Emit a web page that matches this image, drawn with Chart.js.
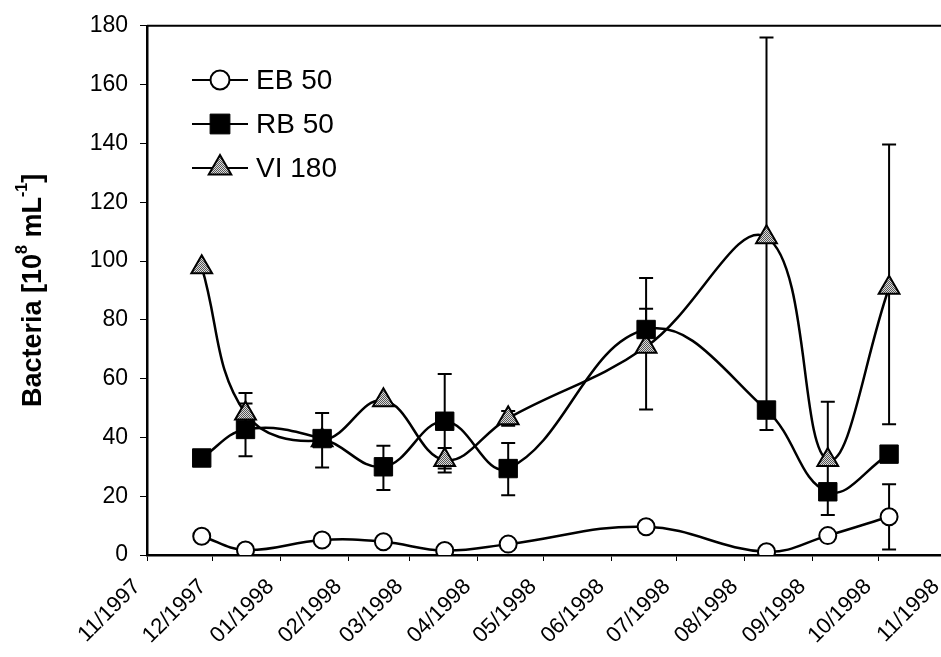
<!DOCTYPE html>
<html>
<head>
<meta charset="utf-8">
<title>Bacteria</title>
<script src="https://cdn.jsdelivr.net/npm/chart.js@4.4.1/dist/chart.umd.min.js"></script>
<style>
    html, body { margin: 0; padding: 0; background: #fff; overflow: hidden; }
    #wrap { width: 941px; height: 657px; overflow: hidden; }
</style>
</head>
<body>
<div id="wrap"><canvas id="chartBacteria" width="960" height="657"></canvas></div>
<script>
/* ====================================
   DATOS
   ==================================== */

// fechas de muestreo
const fechas = ['1997-11-26', '1997-12-16', '1998-01-20', '1998-02-17', '1998-03-17',
                '1998-04-15', '1998-06-17', '1998-08-11', '1998-09-08', '1998-10-06'];

// eje x: inicio de cada mes
const mesesInicio = ['1997-11-01', '1997-12-01', '1998-01-01', '1998-02-01', '1998-03-01',
                     '1998-04-01', '1998-05-01', '1998-06-01', '1998-07-01', '1998-08-01',
                     '1998-09-01', '1998-10-01', '1998-11-01'];
const mesesLabels = ['11/1997', '12/1997', '01/1998', '02/1998', '03/1998', '04/1998', '05/1998',
                     '06/1998', '07/1998', '08/1998', '09/1998', '10/1998', '11/1998'];

const yTicks = [0, 20, 40, 60, 80, 100, 120, 140, 160, 180];

const eb50 = [6.4, 1.7, 5.1, 4.5, 1.5, 3.7, 9.6, 1.1, 6.6, 13.0];
const rb50 = [33.0, 42.7, 39.6, 30.0, 45.5, 29.4, 76.7, 49.3, 21.5, 34.3];
const vi180 = [97.9, 48.1, 39.0, 52.6, 32.3, 46.5, 70.8, 108.1, 32.3, 90.9];

// barras de error (min / max), null = sin barra
const eb50Low  = [null, null, null, null, null, null, null, null, null, 1.9];
const eb50High = [null, null, null, null, null, null, null, null, null, 24.1];
const rb50Low  = [null, 33.6, 29.8, 22.1, 29.4, 20.3, 69.6, null, null, null];
const rb50High = [null, 51.5, 48.3, 37.2, 61.6, 38.1, 83.8, null, null, null];
const vi180Low  = [null, 41.1, null, null, 28.1, 44.0, 49.5, 42.5, 13.6, 44.5];
const vi180High = [null, 55.1, null, null, 36.4, 49.0, 94.2, 176.0, 52.1, 139.6];

/* ====================================
   UTILIDADES
   ==================================== */

const FONT = "'Liberation Sans', Arial, sans-serif";

const dia = (s) => {
    const [a, m, d] = s.split('-').map(Number);
    return (Date.UTC(a, m - 1, d) - Date.UTC(1997, 10, 1)) / 86400000;
};

const dias = fechas.map(dia);
const diasMes = mesesInicio.map(dia);

const puntos = (valores) => valores.map((v, i) => ({ x: dias[i], y: v }));

// relleno gris tramado de los triangulos
function crearTrama(ctx) {
    const c = document.createElement('canvas');
    c.width = 2;
    c.height = 2;
    const g = c.getContext('2d');
    g.fillStyle = '#dcdcdc';
    g.fillRect(0, 0, 2, 2);
    g.fillStyle = '#555';
    g.fillRect(0, 0, 1, 1);
    g.fillRect(1, 1, 1, 1);
    return ctx.createPattern(c, 'repeat');
}

function dibujarMarca(ctx, estilo, x, y, r) {
    ctx.beginPath();
    if (estilo === 'circle') {
        ctx.arc(x, y, r, 0, Math.PI * 2);
    } else if (estilo === 'rect') {
        const s = r * Math.SQRT1_2;
        ctx.rect(x - s, y - s, 2 * s, 2 * s);
    } else {
        ctx.moveTo(x, y - r);
        ctx.lineTo(x + r * 0.866, y + r * 0.5);
        ctx.lineTo(x - r * 0.866, y + r * 0.5);
    }
    ctx.closePath();
    ctx.fill();
    ctx.stroke();
}

/* ====================================
   PLUGINS
   ==================================== */

const errores = [
    { low: eb50Low, high: eb50High },
    { low: rb50Low, high: rb50High },
    { low: vi180Low, high: vi180High }
];

const barrasError = {
    id: 'barrasError',
    beforeDatasetsDraw(chart) {
        const { ctx, scales: { x, y } } = chart;
        ctx.save();
        ctx.strokeStyle = '#000';
        ctx.lineWidth = 2;
        errores.forEach(serie => {
            serie.low.forEach((lo, i) => {
                if (lo === null) return;
                const px = x.getPixelForValue(dias[i]);
                const yl = y.getPixelForValue(lo);
                const yh = y.getPixelForValue(serie.high[i]);
                ctx.beginPath();
                ctx.moveTo(px, yl);
                ctx.lineTo(px, yh);
                ctx.moveTo(px - 7, yl);
                ctx.lineTo(px + 7, yl);
                ctx.moveTo(px - 7, yh);
                ctx.lineTo(px + 7, yh);
                ctx.stroke();
            });
        });
        ctx.restore();
    }
};

const marco = {
    id: 'marco',
    afterDraw(chart) {
        const { ctx, chartArea: a } = chart;
        ctx.save();
        ctx.strokeStyle = '#000';
        ctx.lineWidth = 2;
        ctx.beginPath();
        ctx.moveTo(a.left, a.top);
        ctx.lineTo(a.right, a.top);
        ctx.lineTo(a.right, a.bottom);
        ctx.stroke();
        ctx.restore();
    }
};

const leyenda = {
    id: 'leyenda',
    afterDraw(chart) {
        const ctx = chart.ctx;
        ctx.save();
        chart.data.datasets.forEach((ds, i) => {
            const y = 80 + i * 44;
            ctx.strokeStyle = '#000';
            ctx.lineWidth = 2;
            ctx.beginPath();
            ctx.moveTo(192, y);
            ctx.lineTo(248, y);
            ctx.stroke();
            ctx.fillStyle = ds.pointBackgroundColor;
            ctx.lineWidth = ds.pointBorderWidth;
            dibujarMarca(ctx, ds.pointStyle, 220, y, ds.pointRadius + 1);
            ctx.fillStyle = '#000';
            ctx.font = '28px ' + FONT;
            ctx.textBaseline = 'middle';
            ctx.textAlign = 'left';
            ctx.fillText(ds.label, 256, y + 1);
        });
        ctx.restore();
    }
};

const tituloY = {
    id: 'tituloY',
    afterDraw(chart) {
        const ctx = chart.ctx;
        const a = chart.chartArea;
        const partes = [
            ['Bacteria [10', false], ['8', true], [' mL', false], ['-1', true], [']', false]
        ];
        const grande = 'bold 27px ' + FONT;
        const chica = 'bold 16px ' + FONT;
        ctx.save();
        let total = 0;
        partes.forEach(([t, sup]) => {
            ctx.font = sup ? chica : grande;
            total += ctx.measureText(t).width;
        });
        ctx.translate(41, (a.top + a.bottom) / 2);
        ctx.rotate(-Math.PI / 2);
        ctx.fillStyle = '#000';
        ctx.textBaseline = 'alphabetic';
        ctx.textAlign = 'left';
        let pos = -total / 2;
        partes.forEach(([t, sup]) => {
            ctx.font = sup ? chica : grande;
            ctx.fillText(t, pos, sup ? -14 : 0);
            pos += ctx.measureText(t).width;
        });
        ctx.restore();
    }
};

/* ====================================
   GRAFICO
   ==================================== */

const canvas = document.getElementById('chartBacteria');
const ctx = canvas.getContext('2d');
const trama = crearTrama(ctx);

const serieBase = {
    borderColor: '#000',
    borderWidth: 2.5,
    pointBorderColor: '#000',
    tension: 0.4,
    fill: false
};

new Chart(ctx, {
    type: 'line',
    data: {
        datasets: [
            {
                ...serieBase,
                label: 'EB 50',
                data: puntos(eb50),
                pointStyle: 'circle',
                pointRadius: 8.5,
                pointBorderWidth: 2,
                pointBackgroundColor: '#fff'
            },
            {
                ...serieBase,
                label: 'RB 50',
                data: puntos(rb50),
                pointStyle: 'rect',
                pointRadius: 13,
                pointBorderWidth: 1,
                pointBackgroundColor: '#000'
            },
            {
                ...serieBase,
                label: 'VI 180',
                data: puntos(vi180),
                pointStyle: 'triangle',
                pointRadius: 12,
                pointBorderWidth: 2,
                pointBackgroundColor: trama
            }
        ]
    },
    options: {
        responsive: false,
        animation: false,
        events: [],
        layout: {
            padding: { top: 25, right: 10, bottom: 0, left: 0 }
        },
        plugins: {
            legend: { display: false },
            tooltip: { enabled: false }
        },
        scales: {
            x: {
                type: 'linear',
                min: 0,
                max: 365,
                afterBuildTicks: (scale) => {
                    scale.ticks = diasMes.map(v => ({ value: v }));
                },
                afterFit: (scale) => {
                    scale.height = 102;
                    scale.paddingLeft = 0;
                    scale.paddingRight = 0;
                },
                ticks: {
                    autoSkip: false,
                    maxRotation: 45,
                    minRotation: 45,
                    labelOffset: -10,
                    padding: 13,
                    color: '#000',
                    font: { family: FONT, size: 22 },
                    callback: (value) => mesesLabels[diasMes.indexOf(value)]
                },
                grid: {
                    drawOnChartArea: false,
                    tickLength: 6,
                    color: '#000'
                },
                border: { color: '#000', width: 2.5 }
            },
            y: {
                min: 0,
                max: 180,
                afterBuildTicks: (scale) => {
                    scale.ticks = yTicks.map(v => ({ value: v }));
                },
                afterFit: (scale) => {
                    scale.width = 147;
                },
                ticks: {
                    padding: 12,
                    color: '#000',
                    font: { family: FONT, size: 23 }
                },
                grid: {
                    drawOnChartArea: false,
                    tickLength: 7,
                    color: '#000'
                },
                border: { color: '#000', width: 2.5 }
            }
        }
    },
    plugins: [barrasError, marco, leyenda, tituloY]
});
</script>
</body>
</html>
